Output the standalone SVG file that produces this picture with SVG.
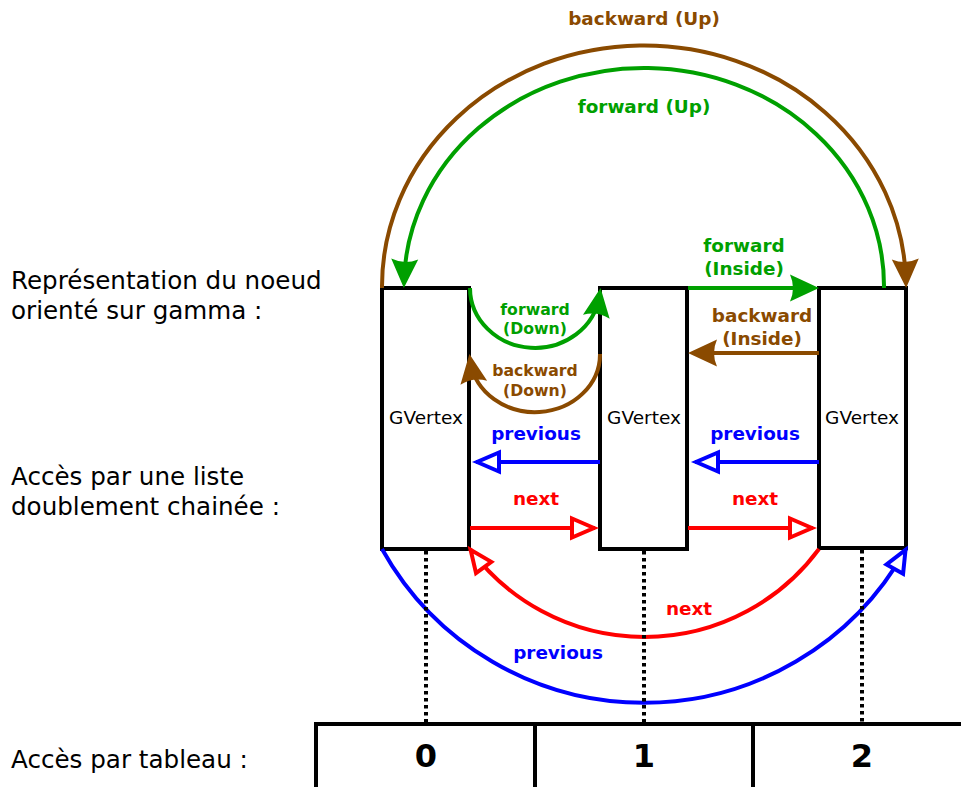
<svg xmlns="http://www.w3.org/2000/svg" width="961" height="787" viewBox="0 0 961 787">
  <style>
    .caption { font-family: "DejaVu Sans", sans-serif; font-size: 24.6px; fill: #000; }
    .vlabel { font-family: "DejaVu Sans", sans-serif; font-size: 18.5px; fill: #000; text-anchor: middle; }
    .lbl { font-family: "DejaVu Sans", sans-serif; font-weight: bold; font-size: 18.4px; text-anchor: middle; }
    .lbl-s { font-family: "DejaVu Sans", sans-serif; font-weight: bold; font-size: 15.7px; text-anchor: middle; }
    .idx { font-family: "DejaVu Sans", sans-serif; font-weight: bold; font-size: 32px; text-anchor: middle; fill: #000; }
    .box { fill: #fff; stroke: #000; stroke-width: 4; }
    .link { fill: none; stroke-width: 4; }
    .green { stroke: #00a000; }
    .brown { stroke: #8a4a00; }
    .blue { stroke: #0000ff; }
    .red { stroke: #ff0000; }
    .dots { fill: none; stroke: #000; stroke-width: 4; stroke-dasharray: 3.5 3.5; }
    .grid { fill: none; stroke: #000; stroke-width: 4; }
  </style>
  <defs>
    <!-- solid arrowheads: tip sits 8px beyond the path end -->
    <marker id="arrGreen" markerUnits="userSpaceOnUse" viewBox="-24 -16 34 32" refX="0" refY="0" markerWidth="34" markerHeight="32" orient="auto" overflow="visible">
      <path d="M8,0 L-21,-13.5 Q-15,0 -21,13.5 Z" fill="#00a000"/>
    </marker>
    <marker id="arrBrown" markerUnits="userSpaceOnUse" viewBox="-24 -16 34 32" refX="0" refY="0" markerWidth="34" markerHeight="32" orient="auto" overflow="visible">
      <path d="M8,0 L-21,-13.5 Q-15,0 -21,13.5 Z" fill="#8a4a00"/>
    </marker>
    <!-- hollow arrowheads: tip sits on the path end -->
    <marker id="openBlue" markerUnits="userSpaceOnUse" viewBox="-28 -14 32 28" refX="0" refY="0" markerWidth="32" markerHeight="28" orient="auto" overflow="visible">
      <path d="M-1,0 L-23,-9.5 L-23,9.5 Z" fill="#fff" stroke="#0000ff" stroke-width="4"/>
    </marker>
    <marker id="openRed" markerUnits="userSpaceOnUse" viewBox="-28 -14 32 28" refX="0" refY="0" markerWidth="32" markerHeight="28" orient="auto" overflow="visible">
      <path d="M-1,0 L-23,-9.5 L-23,9.5 Z" fill="#fff" stroke="#ff0000" stroke-width="4"/>
    </marker>
  </defs>

  <rect width="961" height="787" fill="#fff"/>

  <!-- row captions -->
  <g id="captions">
    <text class="caption" x="11" y="289">Représentation du noeud</text>
    <text class="caption" x="11" y="319">orienté sur gamma :</text>
    <text class="caption" x="11" y="485">Accès par une liste</text>
    <text class="caption" x="11" y="515">doublement chainée :</text>
    <text class="caption" x="11" y="768">Accès par tableau :</text>
  </g>

  <!-- vertices -->
  <g id="vertex0">
    <rect class="box" x="382" y="288" width="87" height="261"/>
    <text class="vlabel" x="426" y="424">GVertex</text>
  </g>
  <g id="vertex1">
    <rect class="box" x="600" y="288" width="87" height="261"/>
    <text class="vlabel" x="644" y="424">GVertex</text>
  </g>
  <g id="vertex2">
    <rect class="box" x="819" y="288" width="87" height="260"/>
    <text class="vlabel" x="862" y="424">GVertex</text>
  </g>

  <!-- array cells -->
  <g id="array">
    <path class="grid" d="M316,787 V724 H961 M535,724 V787 M753,724 V787"/>
    <text class="idx" x="426" y="767">0</text>
    <text class="idx" x="644" y="767">1</text>
    <text class="idx" x="862" y="767">2</text>
  </g>

  <!-- connectors -->
  <g id="connectors">
    <!-- up arcs -->
    <path class="link brown" d="M382,288 A262,241 0 0 1 905.9,280" marker-end="url(#arrBrown)"/>
    <path class="link green" d="M884,288 A240,218 0 0 0 404.1,280" marker-end="url(#arrGreen)"/>
    <!-- down arcs between vertex 0 and 1 -->
    <path class="link green" d="M470,288 A65,60 0 0 0 599.4,296" marker-end="url(#arrGreen)"/>
    <path class="link brown" d="M600,354 A65,58 0 0 1 470.6,362" marker-end="url(#arrBrown)"/>
    <!-- inside links between vertex 1 and 2 -->
    <path class="link green" d="M688,288 H811" marker-end="url(#arrGreen)"/>
    <path class="link brown" d="M819,353 H696" marker-end="url(#arrBrown)"/>
    <!-- list links -->
    <path class="link blue" d="M600,462 H476" marker-end="url(#openBlue)"/>
    <path class="link blue" d="M819,462 H695" marker-end="url(#openBlue)"/>
    <path class="link red" d="M470,528 H595" marker-end="url(#openRed)"/>
    <path class="link red" d="M688,528 H813" marker-end="url(#openRed)"/>
    <path class="link red" d="M819,549 A217,217 0 0 1 470,549" marker-end="url(#openRed)"/>
    <path class="link blue" d="M382,549 A300,300 0 0 0 906,549" marker-end="url(#openBlue)"/>
    <!-- index links to the array -->
    <path class="dots" d="M426,551 V722 M644,551 V722 M862,550 V722"/>
  </g>

  <!-- connector labels -->
  <g id="labels">
    <text class="lbl" x="644" y="25" fill="#8a4a00">backward (Up)</text>
    <text class="lbl" x="644" y="113" fill="#00a000">forward (Up)</text>
    <text class="lbl" x="744" y="252" fill="#00a000">forward</text>
    <text class="lbl" x="744" y="275" fill="#00a000">(Inside)</text>
    <text class="lbl" x="762" y="322" fill="#8a4a00">backward</text>
    <text class="lbl" x="762" y="345" fill="#8a4a00">(Inside)</text>
    <text class="lbl-s" x="535" y="315" fill="#00a000">forward</text>
    <text class="lbl-s" x="535" y="334" fill="#00a000">(Down)</text>
    <text class="lbl-s" x="535" y="376" fill="#8a4a00">backward</text>
    <text class="lbl-s" x="535" y="396" fill="#8a4a00">(Down)</text>
    <text class="lbl" x="536" y="440" fill="#0000ff">previous</text>
    <text class="lbl" x="755" y="440" fill="#0000ff">previous</text>
    <text class="lbl" x="536" y="505" fill="#ff0000">next</text>
    <text class="lbl" x="755" y="505" fill="#ff0000">next</text>
    <text class="lbl" x="689" y="615" fill="#ff0000">next</text>
    <text class="lbl" x="558" y="659" fill="#0000ff">previous</text>
  </g>
</svg>
